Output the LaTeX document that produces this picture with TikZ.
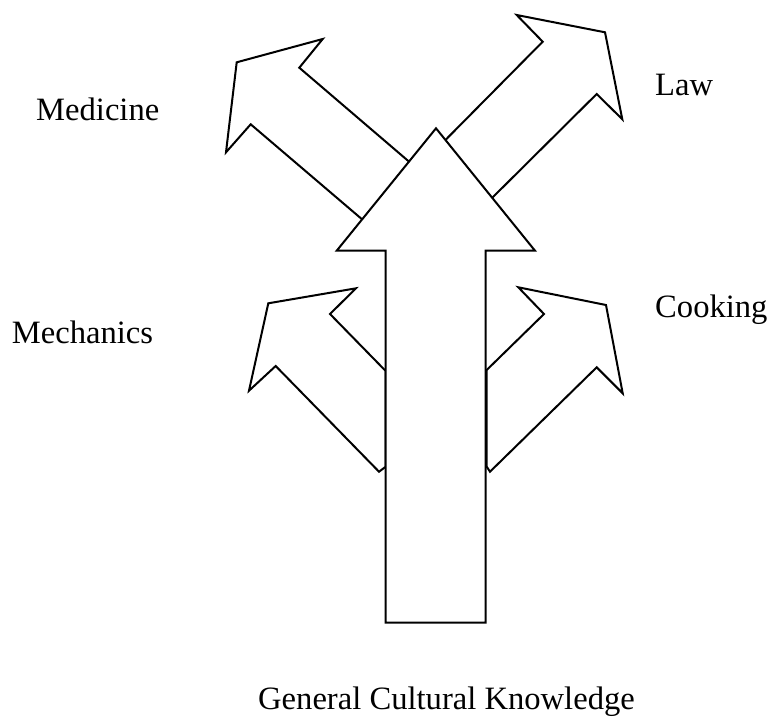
\documentclass[tikz,border=0pt]{standalone}
\usepackage{fontspec}
\setmainfont{Liberation Serif}
\begin{document}
\begin{tikzpicture}[x=1pt,y=-1pt,
  arrowshape/.style={draw=black,fill=white,line width=2pt,line join=miter},
  lbl/.style={inner sep=0pt,anchor=base west,font=\fontsize{32.6}{38}\selectfont}]
\useasboundingbox (0,0) rectangle (769,718);
% Medicine arrow
\draw[arrowshape] (441,189) -- (299.3,67.7) -- (322.7,39) -- (236.7,62.3)
  -- (226,152.3) -- (250.7,124.3) -- (395,247.4) -- cycle;
% Law arrow
\draw[arrowshape] (420,165.7) -- (542.7,41.7) -- (516.7,15) -- (605,32.3)
  -- (622.3,119.3) -- (596.7,94) -- (460,229.8) -- cycle;
% Mechanics arrow
\draw[arrowshape] (385.7,371) -- (330,314) -- (356,288.3) -- (268.3,303.3)
  -- (249,390.7) -- (275.7,366) -- (379,471.7) -- (385.7,466.7) -- cycle;
% Cooking arrow
\draw[arrowshape] (486.7,370) -- (544,314) -- (518.3,287.3) -- (606,305)
  -- (622.7,393.3) -- (596.7,367.3) -- (490,471.7) -- (486.7,466.7) -- cycle;
% main arrow
\draw[arrowshape] (385.7,622.7) -- (385.7,250.7) -- (336.7,250.7) -- (436,128.3)
  -- (535,250.7) -- (485.7,250.7) -- (485.7,622.7) -- cycle;
% labels
\node[lbl] (medicine) at (36,120) {Medicine};
\node[lbl] (law) at (655,95) {Law};
\node[lbl] (mechanics) at (11.7,343) {Mechanics};
\node[lbl] (cooking) at (655,317) {Cooking};
\node[lbl] (general) at (258,709) {General Cultural Knowledge};
\end{tikzpicture}
\end{document}
